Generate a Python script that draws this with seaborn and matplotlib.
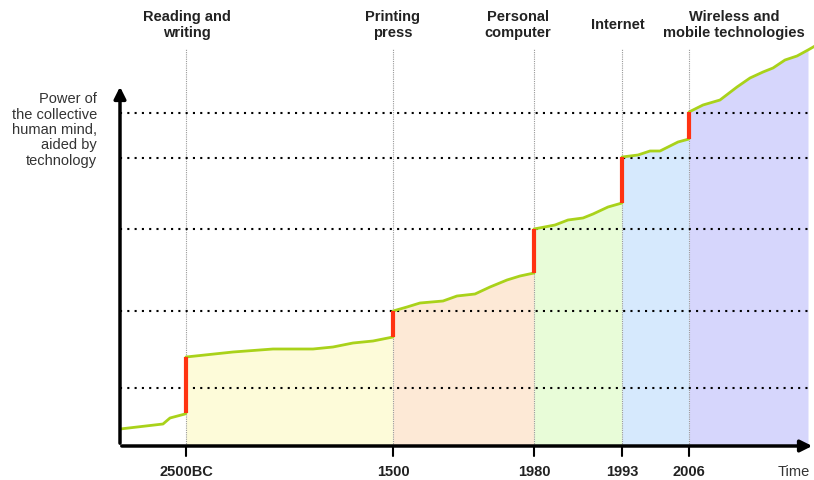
import numpy as np
import pandas as pd
import matplotlib
matplotlib.use("Agg")
import matplotlib.pyplot as plt
import seaborn as sns

# schematic chart: x = position along the time axis, y = "power" level
era_names = ["Reading and\nwriting", "Printing\npress", "Personal\ncomputer",
             "Internet", "Wireless and\nmobile technologies"]
era_label_x = [67, 273, 398, 498, 614]
tick_labels = ["2500BC", "1500", "1980", "1993", "2006"]
tick_pos = [66, 273, 414, 502, 569]
axis_end = 688
levels = [58, 135, 217, 288, 333]
era_colors = ["#fdfbd9", "#fde9d6", "#e8fcd8", "#d6e9fd", "#d6d6fc"]

seg_x = [
    [0, 43, 50, 65, 66],
    [66, 113, 153, 193, 213, 233, 253, 273],
    [273, 287, 300, 323, 337, 355, 370, 387, 400, 414],
    [414, 435, 448, 463, 473, 488, 502],
    [502, 518, 530, 540, 558, 569],
    [569, 583, 600, 617, 630, 643, 653, 665, 677, 688, 695],
]
seg_y = [
    [17, 22, 28, 32, 33],
    [89, 94, 97, 97, 99, 103, 105, 109],
    [135, 139, 143, 145, 150, 152, 159, 166, 170, 173],
    [217, 221, 226, 228, 232, 239, 243],
    [289, 291, 295, 295, 304, 307],
    [334, 341, 346, 359, 368, 374, 378, 386, 390, 396, 400],
]

sns.set_style("white")
plt.rcParams['font.family'] = ['Liberation Sans', 'DejaVu Sans']

fig = plt.figure(figsize=(8.14, 4.81), dpi=100)
ax = fig.add_axes([120 / 814, 34 / 481, 695 / 814, 407 / 481])
ax.set_xlim(0, 695)
ax.set_ylim(0, 407)
ax.axis("off")

# shaded eras under the curve
for i in range(1, len(seg_x)):
    xs = np.array(seg_x[i])
    ys = np.array(seg_y[i])
    keep = xs <= axis_end
    ax.fill_between(xs[keep], 0, ys[keep], color=era_colors[i - 1], lw=0, zorder=1)

# grey vertical guides at each tick
for p in tick_pos:
    ax.plot([p, p], [0, 397], color="#999999", lw=0.8, ls=(0, (1, 1)), zorder=2)

# dotted level lines
for lv in levels:
    ax.plot([0, axis_end], [lv, lv], color="black", lw=1.5, ls=(0, (1, 2.5)), zorder=3)

# curve segments
for xs, ys in zip(seg_x, seg_y):
    df = pd.DataFrame({"x": xs, "y": ys})
    sns.lineplot(data=df, x="x", y="y", ax=ax, color="#a9d21a", lw=2, sort=False, zorder=4)

# red jumps at each technology
for i, p in enumerate(tick_pos):
    ax.plot([p, p], [seg_y[i][-1], seg_y[i + 1][0]], color="#ff3311", lw=3, zorder=5,
            solid_capstyle="butt")

# axes arrows
ax.annotate("", xy=(0, 362), xytext=(0, 0),
            arrowprops=dict(arrowstyle="-|>,head_width=0.35,head_length=0.7", color="black", lw=2.5),
            annotation_clip=False, zorder=6)
ax.annotate("", xy=(695, 0), xytext=(-1, 0),
            arrowprops=dict(arrowstyle="-|>,head_width=0.35,head_length=0.7", color="black", lw=2.5),
            annotation_clip=False, zorder=6)

# tick marks and labels
for p, lab in zip(tick_pos, tick_labels):
    ax.plot([p, p], [0, -10], color="black", lw=1.5, clip_on=False, zorder=6)
    ax.text(p, -25, lab, ha="center", va="center", fontsize=10.5, fontweight="bold", color="#222222")
ax.text(690, -25, "Time", ha="right", va="center", fontsize=10.5, color="#333333")

# era titles
for x, name in zip(era_label_x, era_names):
    ax.text(x, 422, name, ha="center", va="center", fontsize=10.5, fontweight="bold",
            color="#222222", linespacing=1.2, clip_on=False)

ax.text(-23, 317, "Power of\nthe collective\nhuman mind,\naided by\ntechnology",
        ha="right", va="center", fontsize=10.5, color="#333333", linespacing=1.12)

fig.savefig("out.png", dpi=100)
